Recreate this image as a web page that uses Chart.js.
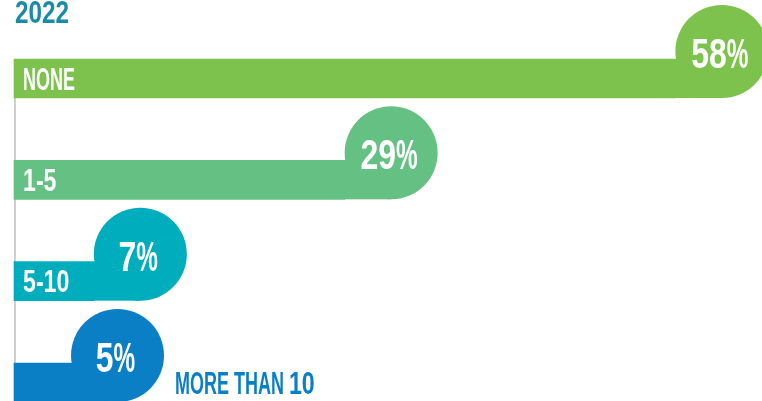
<!DOCTYPE html>
<html>
<head>
<meta charset="utf-8">
<script src="https://cdn.jsdelivr.net/npm/chart.js@4/dist/chart.umd.min.js"></script>
<style>
  html, body { margin: 0; padding: 0; background: #fff; overflow: hidden; }
  #wrap { position: relative; width: 762px; height: 401px; }
</style>
</head>
<body>
<div id="wrap"><canvas id="chart"></canvas></div>
<script>
const title = "2022";
const categories = ["NONE", "1-5", "5-10", "MORE THAN 10"];
const shares = [58, 29, 7, 5];
const barColors = ["#7dc24d", "#65c183", "#00adbc", "#0a7fc5"];

const FONT = "'Liberation Sans', Arial, sans-serif";
const BUBBLE_R = 46.5;

// the original uses a narrow display face: squeeze a bold sans, digits less than letters
const squeezeFor = (ch) => {
  if (/[0-9\-]/.test(ch)) return 0.76;
  if (ch === "%") return 0.58;
  return 0.59;
};

const textWidth = (ctx, text, size) => {
  ctx.save();
  ctx.font = "bold " + size + "px " + FONT;
  let w = 0;
  for (const ch of text) {
    w += ctx.measureText(ch).width * squeezeFor(ch);
  }
  ctx.restore();
  return w;
};

const drawText = (ctx, text, x, y, size, color, align) => {
  const w = textWidth(ctx, text, size);
  let pos = align === "center" ? x - w / 2 : x;
  ctx.save();
  ctx.font = "bold " + size + "px " + FONT;
  ctx.fillStyle = color;
  ctx.textAlign = "left";
  ctx.textBaseline = "alphabetic";
  for (const ch of text) {
    const s = squeezeFor(ch);
    ctx.save();
    ctx.translate(pos, y);
    ctx.scale(s, 1);
    ctx.fillText(ch, 0, 0);
    ctx.restore();
    pos += ctx.measureText(ch).width * s;
  }
  ctx.restore();
  return w;
};

const bubbleBars = {
  id: "bubbleBars",
  beforeDatasetsDraw(chart) {
    const ctx = chart.ctx;
    const bars = chart.getDatasetMeta(0).data;
    const first = bars[0];
    ctx.save();
    ctx.strokeStyle = "#cfcfcf";
    ctx.lineWidth = 2;
    ctx.beginPath();
    ctx.moveTo(chart.chartArea.left + 1, first.y + first.height / 2);
    ctx.lineTo(chart.chartArea.left + 1, chart.height);
    ctx.stroke();
    ctx.restore();
  },
  afterDatasetsDraw(chart) {
    const ctx = chart.ctx;
    const bars = chart.getDatasetMeta(0).data;
    const left = chart.chartArea.left;

    drawText(ctx, title, left + 1, 23, 32, "#1a8aa6", "left");

    bars.forEach((bar, i) => {
      const color = barColors[i];
      const half = bar.height / 2;
      const cx = bar.x + BUBBLE_R;
      const cy = bar.y + half - BUBBLE_R;

      ctx.save();
      ctx.fillStyle = color;
      ctx.fillRect(bar.x - 0.5, bar.y - half, BUBBLE_R + 0.5, bar.height);
      ctx.beginPath();
      ctx.arc(cx, cy, BUBBLE_R, 0, Math.PI * 2);
      ctx.fill();
      ctx.restore();

      drawText(ctx, shares[i] + "%", cx - 2, cy + 16.5, 42, "#ffffff", "center");

      const label = categories[i];
      const w = textWidth(ctx, label, 30.5);
      if (w + 15 < bar.x - left) {
        drawText(ctx, label, left + 9, bar.y + 11, 30.5, "#ffffff", "left");
      } else {
        drawText(ctx, label, cx + BUBBLE_R + 11, bar.y + 11.5, 30.5, color, "left");
      }
    });
  },
};

const ctx = document.getElementById("chart").getContext("2d");

new Chart(ctx, {
  type: "bar",
  data: {
    labels: categories,
    datasets: [
      {
        data: shares,
        backgroundColor: barColors,
        borderWidth: 0,
        barThickness: 39,
        clip: false,
      },
    ],
  },
  options: {
    indexAxis: "y",
    responsive: true,
    maintainAspectRatio: false,
    animation: false,
    layout: {
      padding: { top: 78.5, bottom: 18.5, left: 14, right: 0 },
    },
    plugins: {
      legend: { display: false },
      tooltip: { enabled: false },
    },
    scales: {
      x: {
        display: false,
        min: 0,
        max: 65.6,
      },
      y: {
        display: false,
        offset: false,
        grid: { display: false },
      },
    },
  },
  plugins: [bubbleBars],
});
</script>
</body>
</html>
